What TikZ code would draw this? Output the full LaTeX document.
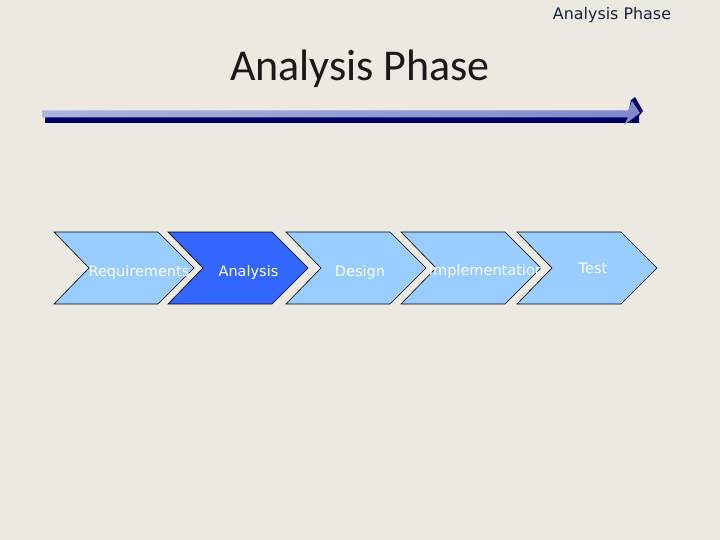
\documentclass[tikz,border=0pt]{standalone}
\usepackage{fontspec}
\setmainfont{DejaVu Sans}
\newfontfamily\titlefont{Carlito}
\usetikzlibrary{shadings}
\definecolor{bgc}{RGB}{236,233,224}
\definecolor{chevlight}{RGB}{153,204,255}
\definecolor{chevdark}{RGB}{51,102,255}
\definecolor{navy}{RGB}{0,0,96}
\definecolor{barleft}{RGB}{172,180,226}
\definecolor{barright}{RGB}{128,136,204}
\definecolor{toptext}{RGB}{20,36,64}
\tikzset{
  chev/.style={draw=black, line width=0.6pt, fill=chevlight},
  chevtext/.style={text=white, font=\fontsize{14.5}{16}\selectfont, anchor=base, inner sep=0pt},
}
\begin{document}
\begin{tikzpicture}[x=1pt,y=-1pt]
\fill[bgc] (0,0) rectangle (720,540);
\useasboundingbox (0,0) rectangle (720,540);
% header texts
\node[anchor=base, inner sep=0pt, text=toptext, font=\fontsize{15.9}{18}\selectfont] (hdr) at (612,20) {Analysis Phase};
\node[anchor=base, inner sep=0pt, text=black!90, font=\titlefont\fontsize{44}{50}\selectfont] (title) at (360,81) {Analysis Phase};
% timeline arrow: dark shadow
\fill[navy] (45,117.5) -- (639,117.5) -- (639,123) -- (45,123) -- cycle;
\fill[navy] (631,100) -- (635,97) -- (643,111) -- (639,116) -- (639,123) -- (626,123) -- cycle;
% light arrow
\shade[left color=barleft, right color=barright] (42,110.5) -- (628,110.5) -- (632,101) -- (640,113) -- (624,125) -- (628,117.5) -- (42,117.5) -- cycle;
% chevrons
\foreach \L/\c in {54/chevlight,168/chevdark,286/chevlight,401/chevlight,517/chevlight}{
  \draw[chev, fill=\c] (\L,232) -- (\L+104,232) -- (\L+140,268) -- (\L+104,304) -- (\L,304) -- (\L+35,268) -- cycle;
}
\node[chevtext] (req) at (139,276) {Requirements};
\node[chevtext] (ana) at (248.5,276) {Analysis};
\node[chevtext] (des) at (360,276) {Design};
\node[chevtext] (imp) at (486.5,275) {Implementation};
\node[chevtext] (tst) at (593,273.5) {Test};
\end{tikzpicture}
\end{document}
